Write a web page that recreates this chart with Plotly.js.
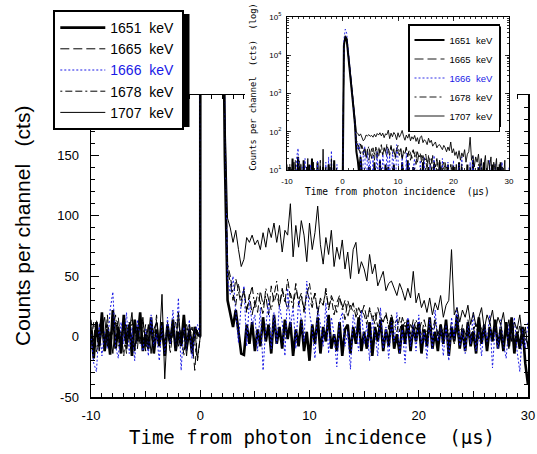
<!DOCTYPE html>
<html><head><meta charset="utf-8">
<script src="https://cdn.plot.ly/plotly-3.0.1.min.js"></script>
<style>
html,body{margin:0;padding:0;background:#fff;}
#wrap{position:relative;width:537px;height:454px;overflow:hidden;background:#fff;}
#main{position:absolute;left:0;top:0;width:537px;height:454px;}
#inset{position:absolute;left:245px;top:0;width:272px;height:199px;}
</style></head><body>
<div id="wrap"><div id="main"></div><div id="inset"></div></div>
<script>
// time from photon incidence (µs), one value per channel
const time = [-10,-9.75,-9.5,-9.25,-9,-8.75,-8.5,-8.25,-8,-7.75,
-7.5,-7.25,-7,-6.75,-6.5,-6.25,-6,-5.75,-5.5,-5.25,
-5,-4.75,-4.5,-4.25,-4,-3.75,-3.5,-3.25,-3,-2.75,
-2.5,-2.25,-2,-1.75,-1.5,-1.25,-1,-0.75,-0.5,-0.25,
0,0.25,0.5,0.75,1,1.25,1.5,1.75,2,2.25,
2.5,2.75,3,3.25,3.5,3.75,4,4.25,4.5,4.75,
5,5.25,5.5,5.75,6,6.25,6.5,6.75,7,7.25,
7.5,7.75,8,8.25,8.5,8.75,9,9.25,9.5,9.75,
10,10.25,10.5,10.75,11,11.25,11.5,11.75,12,12.25,
12.5,12.75,13,13.25,13.5,13.75,14,14.25,14.5,14.75,
15,15.25,15.5,15.75,16,16.25,16.5,16.75,17,17.25,
17.5,17.75,18,18.25,18.5,18.75,19,19.25,19.5,19.75,
20,20.25,20.5,20.75,21,21.25,21.5,21.75,22,22.25,
22.5,22.75,23,23.25,23.5,23.75,24,24.25,24.5,24.75,
25,25.25,25.5,25.75,26,26.25,26.5,26.75,27,27.25,
27.5,27.75,28,28.25,28.5,28.75,29,29.25,29.5,29.75,
30];

const counts1651 = [5,-18,12,-8,20,-12,6,-15,22,-10,
8,-14,18,-6,10,-16,14,-4,20,-12,
2,-10,16,-14,6,-8,12,-16,10,-6,
14,-12,4,-8,18,-10,6,-14,8,2,
0,18000,30000,26000,12000,5500,2400,1000,380,150,
30,18,8,22,4,-14,-15,10,-6,12,
-12,6,-8,16,-4,10,-14,18,-6,8,
-10,14,-2,12,-16,6,-8,14,-12,4,
-20,10,-6,16,-14,8,-4,18,-10,2,
-12,12,-16,6,10,-14,8,-6,16,-12,
4,-10,12,-16,8,-4,14,-12,6,-8,
16,-10,2,-14,10,-6,14,-12,8,-4,
12,-14,6,-8,16,-10,4,-12,10,-6,
14,-16,8,-4,18,-10,6,-12,12,-8,
4,-14,16,-6,10,-12,8,-4,14,-10,
6,-12,12,-8,16,-14,4,-10,8,-22,
-40];

const counts1665 = [8,-10,14,-4,6,-12,18,-8,10,-2,
16,-6,4,-14,12,-2,8,-10,14,-6,
10,-12,6,-4,18,-8,2,-16,12,-4,
8,-10,14,-6,4,-12,10,-2,-28,6,
0,17000,32000,28000,13000,6000,2600,1100,400,160,
55,45,30,48,38,25,40,22,35,18,
30,20,38,26,34,18,42,28,36,24,
40,30,22,36,28,44,26,34,20,38,
30,24,36,18,32,26,40,22,34,28,
20,32,26,14,30,22,28,16,24,18,
26,14,22,18,10,24,16,12,20,8,
18,10,14,4,16,8,12,2,14,6,
10,0,14,4,8,-6,12,2,10,-4,
8,0,12,-2,6,-8,10,2,4,-6,
8,-4,12,0,6,-10,4,-2,10,-6,
2,-8,6,0,10,-4,4,-10,8,-2,
-6];

const counts1666 = [2,-22,-29,10,-16,4,-10,22,37,-8,
-18,12,-6,20,-14,8,-20,14,-4,-12,
6,-16,18,-8,2,-20,10,-14,16,-6,
22,-10,32,-28,8,-12,14,-18,4,10,
0,25000,48000,38000,16000,7000,3000,1200,480,190,
48,35,50,20,-5,28,42,-8,30,10,
18,-12,24,-28,8,30,-10,20,-6,26,
12,-16,40,8,24,-10,30,14,-4,46,
20,6,-18,24,10,-8,28,-14,16,2,
-25,12,20,-8,4,-27,18,6,-12,22,
-6,10,-20,14,2,-16,24,-10,8,-18,
12,-4,20,-14,6,-22,16,-8,10,-12,
18,-6,4,-18,14,-10,22,-4,8,-16,
10,-20,16,-2,24,-8,6,-14,12,-6,
20,-12,4,-16,10,-4,18,-26,8,-10,
14,-6,-18,10,-4,16,-12,-29,6,-10,
12];

const counts1678 = [-6,12,-14,8,16,-4,10,-12,6,18,
-8,4,-16,10,-2,14,-10,6,-6,12,
-12,8,2,-10,14,-6,10,-4,8,-14,
4,12,-8,6,-16,10,-2,8,-6,-20,
0,16000,31000,27000,12500,5800,2500,1050,390,155,
60,50,35,26,44,30,38,20,32,42,
24,36,28,18,40,30,22,34,46,26,
38,28,48,32,24,40,30,36,22,34,
44,28,36,20,30,26,38,24,32,18,
28,34,22,30,16,26,20,24,14,22,
18,10,24,14,20,8,16,12,18,6,
14,10,4,16,8,12,2,10,6,14,
4,12,8,-2,10,6,14,0,8,4,
12,2,6,-6,10,4,8,-4,14,0,
6,10,-2,8,4,-8,12,2,6,-4,
10,-2,6,-10,8,2,-4,10,-6,4,
-8];

const counts1707 = [14,-4,10,-12,6,16,-8,4,-14,12,
8,-6,14,-10,4,20,-12,8,-4,16,
-8,10,-14,6,12,-6,35,-35,8,-2,
14,-10,20,-6,4,-16,10,-4,6,-18,
0,17500,32500,28500,13500,6200,2700,1150,430,190,
98,90,78,88,72,58,64,82,78,84,
76,80,72,86,74,90,82,94,78,92,
70,88,84,110,66,92,74,96,84,62,
94,72,86,108,76,60,82,68,88,58,
74,64,80,56,70,48,72,78,52,62,
56,46,68,52,60,42,48,54,38,44,
46,40,34,44,38,30,40,32,54,28,
36,24,30,20,32,18,28,22,34,16,
26,30,72,18,24,12,22,16,26,10,
20,8,16,24,6,18,12,22,4,16,
10,20,2,14,-4,12,6,18,-2,8,
-10];

const seriesNames = ['1651 keV', '1665 keV', '1666 keV', '1678 keV', '1707 keV'];
const seriesValues = [counts1651, counts1665, counts1666, counts1678, counts1707];

const mainXTicks = [-10, 0, 10, 20, 30];
const mainXTickText = ['-10', '0', '10', '20', '30'];
const mainXMidTicks = [-5, 5, 15, 25];
const mainYTicks = [-50, 0, 50, 100, 150, 200];
const mainYTickText = ['-50', '0', '50', '100', '150', '200'];
const insetXTicks = [-10, 0, 10, 20, 30];
const insetXTickText = ['-10', '0', '10', '20', '30'];
const insetYTicks = [10, 100, 1000, 10000, 100000];
const insetYTickText = ['10<sup>1</sup>', '10<sup>2</sup>', '10<sup>3</sup>', '10<sup>4</sup>', '10<sup>5</sup>'];

const xTitle = 'Time from photon incidence\u00a0\u00a0(\u03bcs)';
const yTitle = 'Counts per channel\u00a0\u00a0\u00a0(cts)';
const insetYTitle = 'Counts per channel\u00a0\u00a0(cts)\u00a0\u00a0(log)';

const BLUE = 'rgb(25,25,230)';
const lineStyles = [
  {color: '#000', width: 2.6, dash: 'solid'},
  {color: '#000', width: 1, dash: '9px,4px'},
  {color: BLUE, width: 1, dash: '2px,2px'},
  {color: '#000', width: 1, dash: '2px,3px,7px,3px,7px,3px'},
  {color: '#000', width: 1, dash: 'solid'}
];
const insetWidths = [2, 0.9, 0.9, 0.9, 0.9];

function legendName(i, pad) {
  const n = seriesNames[i].replace(' ', '\u00a0\u00a0') + pad;
  return i === 2 ? '<span style="color:' + BLUE + '">' + n + '</span>' : n;
}

const SANS = 'Arial, "Liberation Sans", sans-serif';
const MONO = '"DejaVu Sans Mono", monospace';

// ---------- main chart ----------
const mainTraces = seriesValues.map((vals, i) => ({
  type: 'scatter', mode: 'lines', x: time, y: vals,
  name: legendName(i, '\u00a0'),
  line: Object.assign({}, lineStyles[i]),
  hoverinfo: 'skip'
}));
// empty helper trace so the overlaid tick-only axis (ticks at the 5s) is drawn
mainTraces.push({type: 'scatter', mode: 'lines', x: [], y: [], xaxis: 'x2', yaxis: 'y',
  showlegend: false, hoverinfo: 'skip'});

const W = 537, H = 454, ML = 91, MR = 9, MT = 95, MB = 57;
const PW = W - ML - MR, PH = H - MT - MB;
const px2x = p => (p - ML) / PW;
const px2y = p => (H - MB - p) / PH;

const axisCommon = {
  showgrid: false, zeroline: false, showline: true, linecolor: '#000', linewidth: 1.5,
  mirror: 'ticks', ticks: 'inside', tickcolor: '#000', tickwidth: 1.2,
  tickfont: {family: SANS, size: 13, color: '#000'}
};

const mainLayout = {
  width: W, height: H,
  margin: {l: ML, r: MR, t: MT, b: MB, pad: 0, autoexpand: false},
  paper_bgcolor: '#fff', plot_bgcolor: '#fff',
  font: {family: SANS, size: 13, color: '#000'},
  showlegend: true,
  xaxis: Object.assign({}, axisCommon, {
    range: [-10, 30], tickmode: 'array', tickvals: mainXTicks, ticktext: mainXTickText,
    ticklen: 7, ticklabelstandoff: 6,
    minor: {tickmode: 'linear', tick0: 0, dtick: 1, ticks: 'inside', ticklen: 4, tickcolor: '#000', tickwidth: 1}
  }),
  xaxis2: {
    overlaying: 'x', anchor: 'y', side: 'bottom', range: [-10, 30],
    tickmode: 'array', tickvals: mainXMidTicks, showticklabels: false,
    ticks: 'inside', ticklen: 6, tickcolor: '#000', tickwidth: 1.2, mirror: 'ticks',
    showline: false, showgrid: false, zeroline: false
  },
  yaxis: Object.assign({}, axisCommon, {
    range: [-50, 200], tickmode: 'array', tickvals: mainYTicks, ticktext: mainYTickText,
    ticklen: 8, ticklabelstandoff: 8,
    minor: {tickmode: 'linear', tick0: 0, dtick: 10, ticks: 'inside', ticklen: 4, tickcolor: '#000', tickwidth: 1}
  }),
  legend: {
    x: px2x(53.3), y: px2y(10), xanchor: 'left', yanchor: 'top',
    bgcolor: '#fff', bordercolor: '#000', borderwidth: 2,
    font: {family: SANS, size: 14, color: '#000'},
    itemwidth: 45, traceorder: 'normal'
  },
  shapes: [{
    // drop shadow of the legend box
    type: 'rect', xref: 'paper', yref: 'paper', layer: 'above',
    x0: px2x(57), x1: px2x(189.5), y0: px2y(127), y1: px2y(14),
    fillcolor: '#000', line: {width: 0}
  }],
  annotations: [
    {text: xTitle, xref: 'paper', yref: 'paper', x: px2x(311.5), y: px2y(437),
     xanchor: 'center', yanchor: 'middle', showarrow: false,
     font: {family: MONO, size: 19, color: '#000'}},
    {text: yTitle, xref: 'paper', yref: 'paper', x: px2x(22.5), y: px2y(226.5),
     xanchor: 'center', yanchor: 'middle', showarrow: false, textangle: -90,
     font: {family: SANS, size: 21, color: '#000'}}
  ]
};

// ---------- inset (log scale) ----------
const IW = 272, IH = 199, IL = 42, IR = 8, IT = 17, IB = 29, IOX = 245;
const IPW = IW - IL - IR, IPH = IH - IT - IB;
const ipx2x = p => (p - IOX - IL) / IPW;
const ipx2y = p => (IH - IB - p) / IPH;

const insetTraces = seriesValues.map((vals, i) => ({
  type: 'scatter', mode: 'lines', x: time, y: vals.map(v => Math.max(v, 1)),
  name: legendName(i, ''),
  line: Object.assign({}, lineStyles[i], {width: insetWidths[i]}),
  hoverinfo: 'skip'
}));

const insetAxis = {
  showgrid: false, zeroline: false, showline: true, linecolor: '#000', linewidth: 1,
  mirror: 'ticks', ticks: 'inside', tickcolor: '#000', tickwidth: 0.8, ticklen: 4,
  tickfont: {family: SANS, size: 8, color: '#000'}
};

const insetLayout = {
  width: IW, height: IH,
  margin: {l: IL, r: IR, t: IT, b: IB, pad: 0, autoexpand: false},
  paper_bgcolor: '#fff', plot_bgcolor: '#fff',
  font: {family: SANS, size: 8, color: '#000'},
  showlegend: true,
  xaxis: Object.assign({}, insetAxis, {
    range: [-10, 30], tickmode: 'array', tickvals: insetXTicks, ticktext: insetXTickText,
    ticklabelstandoff: 3,
    minor: {tickmode: 'linear', tick0: 0, dtick: 1, ticks: 'inside', ticklen: 2, tickcolor: '#000', tickwidth: 0.8}
  }),
  yaxis: Object.assign({}, insetAxis, {
    type: 'log', range: [1, 5], tickmode: 'array', tickvals: insetYTicks, ticktext: insetYTickText,
    ticklabelstandoff: 3,
    minor: {dtick: 'D1', ticks: 'inside', ticklen: 2, tickcolor: '#000', tickwidth: 0.8}
  }),
  legend: {
    x: ipx2x(408), y: ipx2y(24), xanchor: 'left', yanchor: 'top',
    bgcolor: '#fff', bordercolor: '#000', borderwidth: 1.5,
    font: {family: SANS, size: 9.5, color: '#000'},
    itemwidth: 30, traceorder: 'normal'
  },
  shapes: [{
    // drop shadow of the inset legend box
    type: 'rect', xref: 'paper', yref: 'paper', layer: 'above',
    x0: ipx2x(410.5), x1: ipx2x(501), y0: ipx2y(127), y1: ipx2y(26.5),
    fillcolor: '#000', line: {width: 0}
  }],
  annotations: [
    {text: xTitle, xref: 'paper', yref: 'paper', x: ipx2x(397), y: ipx2y(191),
     xanchor: 'center', yanchor: 'middle', showarrow: false,
     font: {family: MONO, size: 9.6, color: '#000'}},
    {text: insetYTitle, xref: 'paper', yref: 'paper', x: ipx2x(252.7), y: ipx2y(87),
     xanchor: 'center', yanchor: 'middle', showarrow: false, textangle: -90,
     font: {family: MONO, size: 8.7, color: '#000'}}
  ]
};

const cfg = {staticPlot: true, displayModeBar: false};
Plotly.newPlot('main', mainTraces, mainLayout, cfg);
Plotly.newPlot('inset', insetTraces, insetLayout, cfg);
</script>
</body></html>
